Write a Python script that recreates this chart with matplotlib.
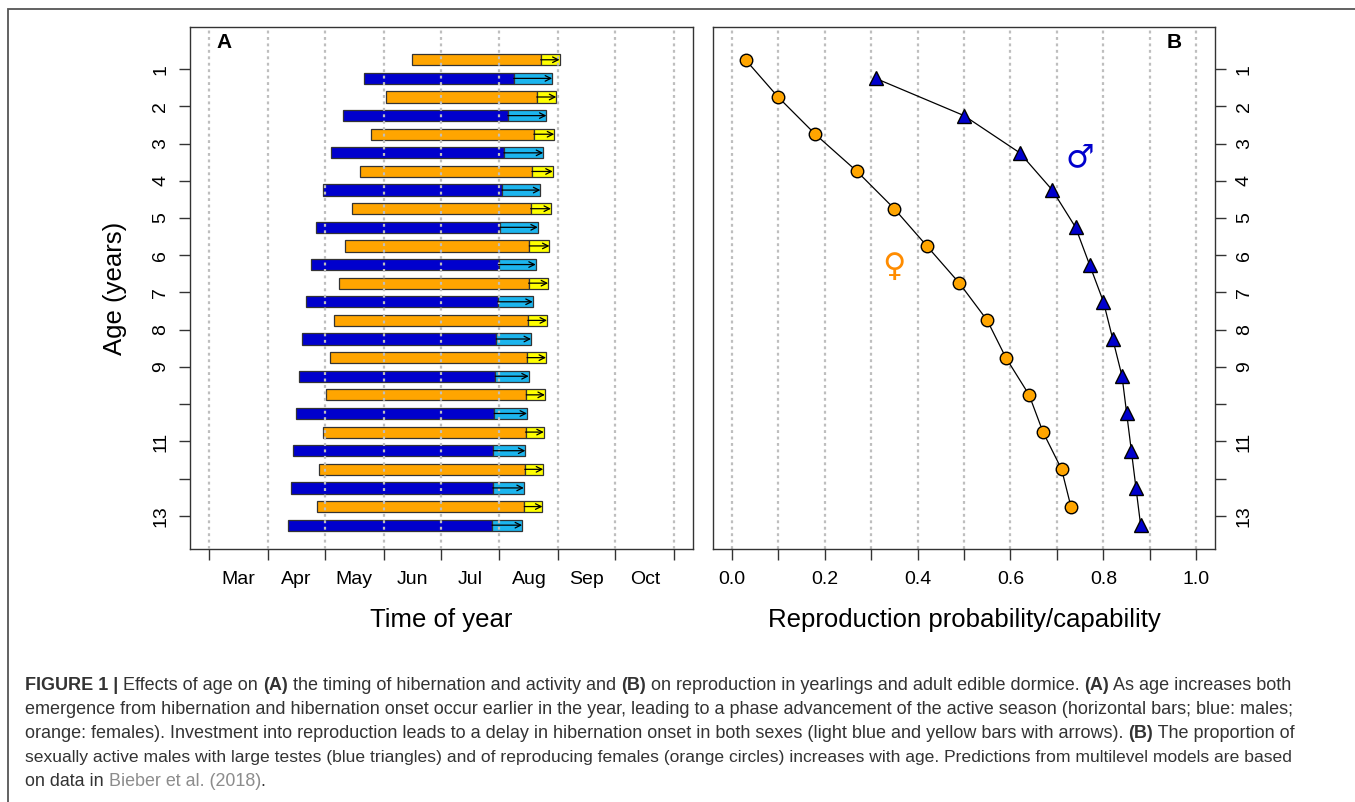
import matplotlib
matplotlib.use("Agg")
import matplotlib.pyplot as plt
from matplotlib.patches import Rectangle
import numpy as np

plt.rcParams['font.family'] = ['Liberation Sans', 'DejaVu Sans']

# ---------------- data ----------------
ages = list(range(1, 14))
# day of year
fem_start = [166.9, 153.5, 145.6, 139.8, 135.5, 131.9, 128.7, 126.1, 124.0, 121.9, 120.0, 118.3, 116.9]
fem_end = [234.7, 232.6, 231.1, 230.1, 229.4, 228.7, 228.3, 227.9, 227.5, 227.1, 226.7, 226.3, 226.1]
fem_repro_end = [244.6, 242.9, 241.8, 241.0, 240.1, 239.3, 238.6, 238.0, 237.5, 236.9, 236.3, 236.0, 235.6]
male_start = [141.7, 130.8, 124.6, 120.0, 116.6, 113.8, 111.4, 109.3, 107.4, 105.7, 104.2, 103.1, 101.8]
male_end = [220.5, 217.4, 215.3, 214.3, 213.4, 212.5, 212.1, 211.3, 210.8, 210.2, 209.8, 209.5, 209.1]
male_repro_end = [240.7, 237.7, 236.0, 234.5, 233.2, 232.1, 230.5, 229.6, 228.4, 227.5, 226.6, 225.8, 224.9]

male_prob = [0.31, 0.50, 0.62, 0.69, 0.74, 0.77, 0.80, 0.82, 0.84, 0.85, 0.86, 0.87, 0.88]
fem_prob = [0.03, 0.10, 0.18, 0.27, 0.35, 0.42, 0.49, 0.55, 0.59, 0.64, 0.67, 0.71, 0.73]

month_starts = [60, 91, 121, 152, 182, 213, 244, 274, 305]
month_labels = ["Mar", "Apr", "May", "Jun", "Jul", "Aug", "Sep", "Oct"]
age_tick_labels = ["1", "2", "3", "4", "5", "6", "7", "8", "9", "", "11", "", "13"]
prob_ticks = [0.0, 0.1, 0.2, 0.3, 0.4, 0.5, 0.6, 0.7, 0.8, 0.9, 1.0]
prob_labels = ["0.0", "", "0.2", "", "0.4", "", "0.6", "", "0.8", "", "1.0"]

# ---------------- styles ----------------
C_ORANGE = "#FFA500"
C_YELLOW = "#FFFF00"
C_BLUE = "#0000CD"
C_LBLUE = "#1CB5EE"
C_EDGE = "#333333"
C_GRID = "#BEBEBE"
W, H = 1355, 802
DPI = 100

fig = plt.figure(figsize=(W / DPI, H / DPI), dpi=DPI)
fig.patch.set_facecolor("white")

def fx(px):
    return px / W

def fy(py):
    return 1 - py / H

axA = fig.add_axes([fx(190), fy(549), (693 - 190) / W, (549 - 27) / H])
axB = fig.add_axes([fx(713), fy(549), (1215 - 713) / W, (549 - 27) / H])

ylim = (13.89, -0.13)
bar_h = 0.30
off = 0.25

def style_axes(ax):
    for s in ax.spines.values():
        s.set_color(C_EDGE)
        s.set_linewidth(1.0)
    ax.tick_params(which="both", direction="out", length=8, width=1.0, color=C_EDGE,
                   labelsize=14, labelcolor="black")

# ---------------- panel A ----------------
ax = axA
style_axes(ax)
y_f = [a - off for a in ages]
y_m = [a + off for a in ages]
fs = np.array(fem_start); fe = np.array(fem_end); fr = np.array(fem_repro_end)
ms = np.array(male_start); me = np.array(male_end); mr = np.array(male_repro_end)

ax.barh(y_f, fe - fs, left=fs, height=bar_h, color=C_ORANGE, edgecolor=C_EDGE, linewidth=0.9, zorder=2)
ax.barh(y_f, fr - fe, left=fe, height=bar_h, color=C_YELLOW, edgecolor=C_EDGE, linewidth=0.9, zorder=2)
ax.barh(y_m, me - ms, left=ms, height=bar_h, color=C_BLUE, edgecolor=C_EDGE, linewidth=0.9, zorder=2)
ax.barh(y_m, mr - me, left=me, height=bar_h, color=C_LBLUE, edgecolor=C_EDGE, linewidth=0.9, zorder=2)

for x in month_starts:
    ax.axvline(x, color=C_GRID, lw=1.6, linestyle=(0, (1.3, 1.6)), zorder=3)

for y, a, b in list(zip(y_f, fe, fr)) + list(zip(y_m, me, mr)):
    ax.annotate("", xy=(b, y), xytext=(a, y),
                arrowprops=dict(arrowstyle="->", color="black", lw=0.9,
                                shrinkA=0, shrinkB=0, mutation_scale=10),
                zorder=4)

ax.set_xlim(50.2, 314.8)
ax.set_ylim(*ylim)
ax.set_xticks(month_starts)
ax.set_xticklabels([""] * len(month_starts))
mids = [(month_starts[i] + month_starts[i + 1]) / 2 for i in range(len(month_labels))]
ax.set_xticks(mids, minor=True)
ax.set_xticklabels(month_labels, minor=True)
ax.tick_params(axis="x", which="minor", length=0, pad=16)
ax.set_yticks(ages)
ax.set_yticklabels(age_tick_labels, rotation=90, va="center")
ax.tick_params(axis="y", pad=7)
ax.text(0.5, (549 - 620) / 522, "Time of year", transform=ax.transAxes,
        ha="center", va="center", fontsize=18.5)
ax.text((115 - 190) / 503, 0.5, "Age (years)", transform=ax.transAxes,
        ha="center", va="center", rotation=90, fontsize=18.5)
ax.text((224 - 190) / 503, (549 - 42) / 522, "A", transform=ax.transAxes,
        ha="center", va="center", fontsize=15, fontweight="bold")

# ---------------- panel B ----------------
ax = axB
style_axes(ax)
for x in prob_ticks:
    ax.axvline(x, color=C_GRID, lw=1.6, linestyle=(0, (1.3, 1.6)), zorder=1)
ax.plot(fem_prob, y_f, color="black", lw=0.9, zorder=2)
ax.plot(male_prob, y_m, color="black", lw=0.9, zorder=2)
ax.plot(fem_prob, y_f, linestyle="none", marker="o", markersize=9,
        markerfacecolor=C_ORANGE, markeredgecolor="black", markeredgewidth=1.0, zorder=3)
ax.plot(male_prob, y_m, linestyle="none", marker="^", markersize=10,
        markerfacecolor=C_BLUE, markeredgecolor="black", markeredgewidth=1.0, zorder=3)
ax.text(0.75, 3.39, "\u2642", color=C_BLUE, fontsize=23, ha="center", va="center",
        family=["DejaVu Sans"])
ax.text(0.35, 6.34, "\u2640", color="#FF8C00", fontsize=23, ha="center", va="center",
        family=["DejaVu Sans"])
ax.set_xlim(-0.04, 1.04)
ax.set_ylim(*ylim)
ax.set_xticks(prob_ticks)
ax.set_xticklabels(prob_labels)
ax.tick_params(axis="x", pad=8)
ax.yaxis.tick_right()
ax.set_yticks(ages)
ax.set_yticklabels(age_tick_labels, rotation=90, va="center")
ax.tick_params(axis="y", pad=7)
ax.text(0.5, (549 - 620) / 522, "Reproduction probability/capability", transform=ax.transAxes,
        ha="center", va="center", fontsize=18.5)
ax.text((1174.5 - 713) / 502, (549 - 42) / 522, "B", transform=ax.transAxes,
        ha="center", va="center", fontsize=15, fontweight="bold")

# ---------------- outer frame ----------------
fig.patches.append(Rectangle((fx(8), fy(830)), fx(1400), fy(9) - fy(830),
                             transform=fig.transFigure, fill=False,
                             edgecolor="#555555", linewidth=1.3))

# ---------------- caption ----------------
TXT = "#333333"
LINK = "#8C8C8C"
cap_lines = [
    [("FIGURE 1 | ", "bold", TXT), ("Effects of age on ", "normal", TXT), ("(A)", "bold", TXT),
     (" the timing of hibernation and activity and ", "normal", TXT), ("(B)", "bold", TXT),
     (" on reproduction in yearlings and adult edible dormice. ", "normal", TXT),
     ("(A)", "bold", TXT), (" As age increases both", "normal", TXT)],
    [("emergence from hibernation and hibernation onset occur earlier in the year, leading to a phase "
      "advancement of the active season (horizontal bars; blue: males;", "normal", TXT)],
    [("orange: females). Investment into reproduction leads to a delay in hibernation onset in both sexes "
      "(light blue and yellow bars with arrows). ", "normal", TXT), ("(B)", "bold", TXT),
     (" The proportion of", "normal", TXT)],
    [("sexually active males with large testes (blue triangles) and of reproducing females (orange circles) "
      "increases with age. Predictions from multilevel models are based", "normal", TXT)],
    [("on data in ", "normal", TXT), ("Bieber et al. (2018)", "normal", LINK), (".", "normal", TXT)],
]
line_ends = [1293, 1292, 1293, 1296, None]
baselines = [690, 714, 738, 762, 786]
renderer = fig.canvas.get_renderer()

def adv(text, weight, size):
    t1 = fig.text(0, 0, "x" + text + "x", fontsize=size, fontweight=weight)
    t2 = fig.text(0, 0, "xx", fontsize=size, fontweight=weight)
    w = t1.get_window_extent(renderer).width - t2.get_window_extent(renderer).width
    t1.remove(); t2.remove()
    return w

base = 12.0
sizes = []
for segs, end in zip(cap_lines, line_ends):
    if end is None:
        sizes.append(None)
        continue
    w0 = sum(adv(s, wt, base) for s, wt, c in segs)
    sizes.append(base * (end - 25) / w0)
mean_fs = float(np.mean([s for s in sizes if s is not None]))
sizes = [s if s is not None else mean_fs for s in sizes]

for segs, yb, cfs in zip(cap_lines, baselines, sizes):
    x = 25.0
    for s, wt, c in segs:
        fig.text(fx(x), fy(yb), s, fontsize=cfs, fontweight=wt, color=c,
                 ha="left", va="baseline")
        x += adv(s, wt, cfs)

fig.savefig("out.png", dpi=DPI)
